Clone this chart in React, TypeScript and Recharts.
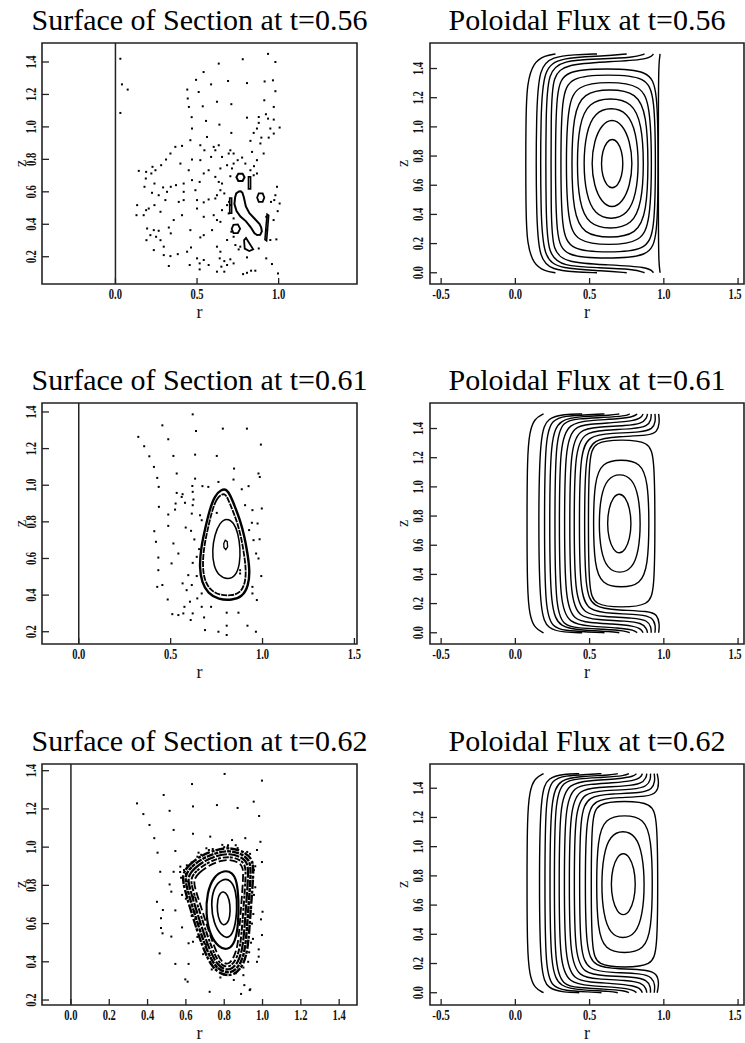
import React from 'react';
import { ComposedChart, Scatter, XAxis, YAxis, ReferenceArea, ReferenceLine } from 'recharts';

type Pt = [number, number];
type Curve = { pts: Pt[]; closed?: boolean; poly?: boolean; w?: number; dash?: string };

// ---------- axis ticks ----------
const sosTicksZ = [0.2, 0.4, 0.6, 0.8, 1.0, 1.2, 1.4];
const sosTicksR056 = [0.0, 0.5, 1.0];
const sosTicksR061 = [0.0, 0.5, 1.0, 1.5];
const sosTicksR062 = [0.0, 0.2, 0.4, 0.6, 0.8, 1.0, 1.2, 1.4];
const fluxTicksR = [-0.5, 0.0, 0.5, 1.0, 1.5];
const fluxTicksZ = [0.0, 0.2, 0.4, 0.6, 0.8, 1.0, 1.2, 1.4];

// ---------- surface of section, t=0.56 ----------
const sos056Dots: Pt[] = [
  [0.03,1.42],[0.935,1.45],[0.98,1.40],[0.78,1.417],[0.633,1.39],[0.54,1.338],[0.494,1.29],[0.44,1.23],[0.04,1.262],[0.075,1.23],
  [0.51,1.215],[0.586,1.262],[0.69,1.283],[0.806,1.27],[0.914,1.28],[0.965,1.287],[0.98,1.22],[0.443,1.175],[0.622,1.155],[0.535,1.127],
  [0.71,1.14],[0.912,1.164],[0.45,1.123],[0.97,1.123],[0.03,1.086],[0.467,1.06],[0.555,1.037],[0.637,1.014],[0.806,1.057],[0.878,1.061],
  [0.922,1.078],[0.935,1.051],[0.878,1.025],[0.97,1.045],[1.006,0.996],[0.949,0.99],[0.867,0.99],[0.847,0.963],[0.469,0.99],[0.561,0.938],
  [0.71,0.963],[0.459,0.918],[0.408,0.883],[0.52,0.887],[0.367,0.877],[0.894,0.934],[0.939,0.934],[0.97,0.959],[0.827,0.914],[0.888,0.898],
  [0.602,0.877],[0.633,0.887],[0.704,0.856],[0.724,0.836],[0.694,0.836],[0.612,0.856],[0.545,0.856],[0.837,0.846],[0.908,0.836],[0.337,0.836],
  [0.776,0.811],[0.749,0.795],[0.724,0.774],[0.684,0.764],[0.653,0.815],[0.586,0.815],[0.52,0.795],[0.469,0.799],[0.398,0.774],[0.31,0.799],
  [0.28,0.764],[0.867,0.795],[0.849,0.758],[0.827,0.733],[0.796,0.774],[0.847,0.702],[0.867,0.713],[0.714,0.744],[0.643,0.744],[0.571,0.733],
  [0.541,0.713],[0.449,0.733],[0.227,0.754],[0.143,0.729],[0.188,0.723],[0.22,0.713],[0.245,0.733],[0.612,0.692],[0.704,0.696],[0.653,0.651],
  [0.633,0.661],[0.516,0.661],[0.469,0.672],[0.418,0.651],[0.371,0.641],[0.339,0.631],[0.292,0.627],[0.239,0.651],[0.186,0.682],[0.643,0.61],
  [0.622,0.579],[0.612,0.559],[0.667,0.59],[0.696,0.538],[0.99,0.631],[0.98,0.579],[1.006,0.528],[0.953,0.538],[0.973,0.549],[0.994,0.481],
  [0.969,0.426],[0.929,0.364],[0.986,0.307],[0.949,0.303],[0.924,0.446],[0.49,0.61],[0.418,0.6],[0.316,0.6],[0.265,0.579],[0.224,0.594],
  [0.178,0.631],[0.5,0.549],[0.541,0.535],[0.571,0.553],[0.418,0.549],[0.388,0.538],[0.306,0.549],[0.133,0.518],[0.204,0.497],[0.188,0.487],
  [0.129,0.456],[0.173,0.456],[0.276,0.477],[0.239,0.518],[0.357,0.426],[0.408,0.456],[0.5,0.497],[0.541,0.446],[0.602,0.456],[0.622,0.426],
  [0.653,0.487],[0.694,0.467],[0.724,0.436],[0.194,0.374],[0.235,0.364],[0.265,0.36],[0.327,0.38],[0.339,0.344],[0.214,0.333],[0.249,0.323],
  [0.276,0.302],[0.19,0.302],[0.296,0.262],[0.235,0.241],[0.459,0.364],[0.52,0.319],[0.541,0.333],[0.592,0.364],[0.643,0.415],[0.71,0.354],
  [0.724,0.323],[0.684,0.303],[0.735,0.272],[0.755,0.245],[0.765,0.262],[0.643,0.231],[0.622,0.262],[0.463,0.257],[0.439,0.231],[0.382,0.216],
  [0.337,0.204],[0.296,0.21],[0.327,0.143],[0.5,0.19],[0.516,0.159],[0.541,0.18],[0.455,0.149],[0.516,0.122],[0.571,0.149],[0.639,0.19],
  [0.667,0.173],[0.684,0.149],[0.704,0.184],[0.724,0.159],[0.649,0.139],[0.622,0.108],[0.667,0.108],[0.782,0.093],[0.806,0.101],[0.831,0.114],
  [0.857,0.114],[0.806,0.196],[0.878,0.251],[0.924,0.19],[0.996,0.097],[0.959,0.155],[0.684,0.518],[0.704,0.518],
];
const sos056Islands: Curve[] = [
  { pts: [[0.756,0.602],[0.74,0.59],[0.733,0.565],[0.729,0.524],[0.742,0.482],[0.766,0.448],[0.8,0.418],[0.828,0.383],[0.852,0.345],[0.868,0.334],[0.887,0.335],[0.897,0.356],[0.893,0.38],[0.883,0.402],[0.853,0.434],[0.821,0.468],[0.799,0.51],[0.787,0.565],[0.778,0.594],[0.768,0.603]], closed: true, poly: true, w: 2 },
  { pts: [[0.741,0.69],[0.753,0.712],[0.779,0.712],[0.791,0.69],[0.779,0.667],[0.753,0.667]], closed: true, poly: true, w: 2 },
  { pts: [[0.868,0.565],[0.878,0.59],[0.902,0.59],[0.912,0.565],[0.902,0.538],[0.878,0.538]], closed: true, poly: true, w: 1.8 },
  { pts: [[0.712,0.372],[0.723,0.397],[0.75,0.399],[0.764,0.372],[0.75,0.346],[0.723,0.346]], closed: true, poly: true, w: 1.8 },
  { pts: [[0.788,0.302],[0.8,0.315],[0.844,0.246],[0.82,0.235],[0.792,0.25]], closed: true, poly: true, w: 1.8 },
  { pts: [[0.815,0.618],[0.815,0.692],[0.828,0.692],[0.828,0.618]], closed: true, poly: true, w: 1.6 },
  { pts: [[0.7,0.468],[0.7,0.562],[0.712,0.562],[0.712,0.468]], closed: true, poly: true, w: 1.6 },
  { pts: [[0.929,0.462],[0.939,0.455],[0.926,0.298],[0.916,0.305]], closed: true, poly: true, w: 1.6 },
];

// ---------- surface of section, t=0.61 ----------
const sos061Dots: Pt[] = [
  [0.62,1.387],[0.455,1.327],[0.324,1.264],[0.356,1.213],[0.384,1.158],[0.409,1.1],[0.427,1.04],[0.435,0.991],[0.436,0.882],[0.411,0.749],
  [0.42,0.691],[0.433,0.605],[0.433,0.536],[0.427,0.445],[0.455,0.455],[0.487,1.251],[0.515,1.16],[0.533,1.064],[0.533,0.958],[0.56,0.936],
  [0.527,0.9],[0.524,0.867],[0.487,0.84],[0.487,0.778],[0.515,0.682],[0.505,0.573],[0.542,0.627],[0.484,0.376],[0.509,0.296],[0.542,0.291],
  [0.569,0.3],[0.609,0.264],[0.575,0.336],[0.605,0.364],[0.638,1.296],[0.784,1.309],[0.915,1.309],[0.991,1.222],[0.633,1.167],[0.751,1.16],
  [0.845,1.091],[0.978,1.064],[0.985,1.045],[0.924,0.995],[0.887,0.978],[0.842,1.031],[0.76,1.018],[0.633,1.036],[0.618,0.996],[0.62,0.964],
  [0.624,0.922],[0.62,0.891],[0.673,0.995],[0.705,0.991],[0.578,0.904],[0.565,0.951],[0.615,0.845],[0.66,0.836],[0.669,0.809],[0.582,0.769],
  [0.611,0.751],[0.629,0.704],[0.655,0.651],[0.642,0.609],[0.62,0.576],[0.596,0.509],[0.642,0.504],[0.565,0.464],[0.615,0.455],[0.587,0.427],
  [0.645,0.382],[0.669,0.336],[0.72,0.336],[0.682,0.278],[0.62,0.3],[0.687,0.209],[0.76,0.2],[0.805,0.182],[0.805,0.233],[0.805,0.304],
  [0.869,0.304],[0.918,0.233],[0.964,0.2],[0.969,0.373],[0.945,0.409],[0.945,0.445],[0.993,0.504],[0.965,0.627],[0.978,0.6],[0.951,0.7],
  [0.984,0.705],[0.973,0.791],[0.996,0.873],[0.945,0.864],[0.942,0.795],[0.927,0.755],[0.905,0.891],[0.878,0.536],[0.751,0.849],[0.878,0.518],
  [0.669,0.409],
];
const sos061Orbits: Curve[] = [
  { pts: [[0.778,0.978],[0.74,0.944],[0.712,0.866],[0.69,0.773],[0.666,0.664],[0.656,0.553],[0.67,0.468],[0.703,0.41],[0.76,0.376],[0.835,0.372],[0.891,0.392],[0.924,0.452],[0.931,0.536],[0.918,0.629],[0.902,0.72],[0.877,0.812],[0.848,0.888],[0.825,0.944],[0.804,0.978]], closed: true, w: 2.4 },
  { pts: [[0.779,0.952],[0.75,0.928],[0.725,0.86],[0.704,0.77],[0.681,0.664],[0.673,0.558],[0.684,0.482],[0.713,0.43],[0.763,0.4],[0.83,0.396],[0.878,0.412],[0.905,0.46],[0.911,0.536],[0.899,0.627],[0.884,0.716],[0.86,0.805],[0.832,0.876],[0.812,0.925],[0.797,0.952]], closed: true, w: 1.8, dash: '6 1' },
  { pts: [[0.805,0.822],[0.767,0.796],[0.739,0.728],[0.726,0.645],[0.733,0.56],[0.764,0.503],[0.811,0.484],[0.854,0.503],[0.877,0.571],[0.879,0.655],[0.867,0.738],[0.844,0.796]], closed: true, w: 1.5 },
  { pts: [[0.789,0.682],[0.797,0.7],[0.808,0.692],[0.81,0.664],[0.8,0.648],[0.79,0.66]], closed: true, poly: true, w: 1.3 },
];

// ---------- surface of section, t=0.62 ----------
const sos062Dots: Pt[] = [
  [0.802,1.383],[0.997,1.348],[0.632,1.33],[0.484,1.273],[0.345,1.229],[0.954,1.238],[0.762,1.22],[0.87,1.205],[0.637,1.213],[0.515,1.19],
  [0.378,1.173],[0.982,1.163],[0.41,1.116],[0.536,1.09],[0.637,1.07],[0.727,1.055],[0.91,1.047],[0.435,1.047],[0.989,1.028],[0.841,1.037],
  [0.818,1.002],[0.971,0.985],[0.452,0.971],[0.545,0.98],[0.666,0.971],[0.707,0.994],[0.997,0.922],[0.466,0.871],[0.536,0.871],[0.571,0.898],
  [0.524,0.767],[0.515,0.805],[0.449,0.714],[0.58,0.75],[0.48,0.671],[0.545,0.669],[0.47,0.628],[0.58,0.58],[0.47,0.577],[0.478,0.549],
  [0.524,0.532],[0.614,0.497],[0.637,0.505],[0.463,0.444],[0.545,0.389],[0.614,0.389],[0.997,0.54],[0.992,0.622],[1.0,0.662],[0.98,0.465],
  [0.98,0.427],[0.971,0.4],[0.597,0.308],[0.609,0.296],[0.936,0.256],[0.724,0.243],[0.888,0.232],[0.933,0.252],[0.905,0.278],
  [0.6,0.86],[0.61,0.82],[0.62,0.79],[0.64,0.74],[0.655,0.66],[0.67,0.6],[0.69,0.52],[0.72,0.44],[0.76,0.37],[0.8,0.335],
  [0.86,0.34],[0.9,0.37],[0.93,0.45],[0.945,0.6],[0.955,0.75],[0.955,0.88],[0.92,0.975],[0.87,0.995],[0.8,1.0],[0.74,0.99],
  [0.68,0.96],[0.63,0.92],[0.59,0.88],[0.82,1.01],[0.95,0.52],[0.94,0.68],[0.65,0.625],[0.705,0.49],[0.73,0.42],[0.575,0.84],
  [0.57,0.87],[0.605,0.905],[0.66,0.95],[0.72,0.985],[0.79,1.012],[0.86,1.01],[0.935,0.965],[0.962,0.9],[0.962,0.79],[0.952,0.65],
  [0.94,0.5],[0.925,0.4],[0.9,0.33],[0.85,0.305],[0.78,0.318],[0.735,0.36],[0.69,0.44],[0.66,0.53],[0.63,0.64],[0.6,0.73],
];
const sos062Orbits: Curve[] = [
  { pts: [[0.578,0.855],[0.615,0.908],[0.678,0.955],[0.75,0.985],[0.83,1.0],[0.905,0.975],[0.952,0.935],[0.952,0.85],[0.942,0.72],[0.932,0.58],[0.922,0.455],[0.895,0.37],[0.84,0.322],[0.775,0.338],[0.732,0.38],[0.692,0.465],[0.657,0.568],[0.622,0.68],[0.592,0.785]], closed: true, w: 2.4, dash: '9 2 3 1' },
  { pts: [[0.592,0.85],[0.628,0.898],[0.688,0.942],[0.756,0.97],[0.83,0.984],[0.898,0.962],[0.938,0.926],[0.938,0.846],[0.929,0.718],[0.919,0.58],[0.909,0.46],[0.884,0.382],[0.836,0.338],[0.78,0.352],[0.742,0.392],[0.704,0.474],[0.67,0.574],[0.636,0.682],[0.606,0.783]], closed: true, w: 2.4, dash: '4 1 7 1' },
  { pts: [[0.607,0.843],[0.642,0.888],[0.698,0.929],[0.762,0.956],[0.83,0.968],[0.891,0.948],[0.925,0.916],[0.925,0.842],[0.916,0.716],[0.906,0.58],[0.896,0.466],[0.872,0.394],[0.832,0.354],[0.784,0.366],[0.751,0.404],[0.716,0.483],[0.683,0.58],[0.65,0.685],[0.621,0.78]], closed: true, w: 2.2, dash: '11 1.5' },
  { pts: [[0.622,0.836],[0.656,0.878],[0.708,0.916],[0.768,0.942],[0.83,0.952],[0.884,0.934],[0.912,0.906],[0.912,0.838],[0.903,0.714],[0.893,0.58],[0.883,0.472],[0.86,0.406],[0.828,0.37],[0.788,0.38],[0.76,0.416],[0.728,0.492],[0.696,0.586],[0.664,0.688],[0.636,0.777]], closed: true, w: 2, dash: '3 2 6 1' },
  { pts: [[0.637,0.829],[0.67,0.868],[0.718,0.903],[0.774,0.928],[0.83,0.936],[0.877,0.92],[0.899,0.896],[0.899,0.834],[0.89,0.712],[0.88,0.58],[0.87,0.478],[0.848,0.418],[0.824,0.386],[0.792,0.394],[0.769,0.428],[0.74,0.501],[0.709,0.592],[0.678,0.691],[0.651,0.774]], closed: true, w: 1.8, dash: '8 3' },
  { pts: [[0.8,0.88],[0.745,0.848],[0.71,0.76],[0.704,0.65],[0.724,0.543],[0.771,0.474],[0.82,0.46],[0.858,0.502],[0.874,0.6],[0.876,0.72],[0.866,0.826],[0.842,0.868]], closed: true, w: 2.2 },
  { pts: [[0.79,0.835],[0.745,0.79],[0.73,0.7],[0.745,0.6],[0.785,0.535],[0.825,0.52],[0.855,0.57],[0.868,0.68],[0.862,0.77],[0.835,0.83]], closed: true, w: 1.7 },
  { pts: [[0.796,0.77],[0.818,0.752],[0.832,0.7],[0.83,0.63],[0.815,0.6],[0.796,0.59],[0.778,0.605],[0.762,0.66],[0.765,0.73],[0.778,0.76]], closed: true, w: 1.6 },
];

// ---------- poloidal flux contours, t=0.56 ----------
const flux056Closed: Pt[][] = [
  [[0.727,0.748],[0.717,0.835],[0.690,0.898],[0.652,0.921],[0.615,0.898],[0.587,0.835],[0.577,0.748],[0.587,0.661],[0.615,0.598],[0.652,0.575],[0.690,0.598],[0.717,0.661]],
  [[0.791,0.749],[0.772,0.903],[0.721,1.016],[0.651,1.057],[0.581,1.016],[0.530,0.903],[0.511,0.749],[0.530,0.595],[0.581,0.482],[0.651,0.441],[0.721,0.482],[0.772,0.595]],
  [[0.833,0.749],[0.814,0.962],[0.758,1.098],[0.645,1.137],[0.532,1.098],[0.476,0.962],[0.457,0.749],[0.476,0.536],[0.532,0.400],[0.645,0.361],[0.758,0.400],[0.814,0.536]],
  [[0.867,0.749],[0.851,1.021],[0.788,1.170],[0.640,1.202],[0.492,1.170],[0.429,1.021],[0.413,0.749],[0.429,0.477],[0.492,0.328],[0.640,0.296],[0.788,0.328],[0.851,0.477]],
  [[0.897,0.749],[0.884,1.082],[0.819,1.235],[0.637,1.261],[0.455,1.235],[0.390,1.082],[0.377,0.749],[0.390,0.416],[0.455,0.263],[0.637,0.237],[0.819,0.263],[0.884,0.416]],
  [[0.920,0.749],[0.908,1.142],[0.848,1.289],[0.630,1.311],[0.412,1.289],[0.352,1.142],[0.340,0.749],[0.352,0.356],[0.412,0.209],[0.630,0.187],[0.848,0.209],[0.908,0.356]],
  [[0.945,0.749],[0.939,1.207],[0.881,1.347],[0.625,1.359],[0.369,1.347],[0.311,1.207],[0.305,0.749],[0.311,0.291],[0.369,0.151],[0.625,0.139],[0.881,0.151],[0.939,0.291]],
  [[0.963,0.749],[0.958,1.257],[0.901,1.390],[0.616,1.400],[0.331,1.390],[0.274,1.257],[0.269,0.749],[0.274,0.241],[0.331,0.108],[0.616,0.098],[0.901,0.108],[0.958,0.241]],
];
const flux056Open: Pt[][] = [
  [[0.93,1.5],[0.9,1.46],[0.6,1.445],[0.35,1.43],[0.25,1.36],[0.24,1.1],[0.24,0.4],[0.25,0.14],[0.35,0.07],[0.6,0.055],[0.9,0.04],[0.93,0.0]],
  [[0.87,1.5],[0.8,1.475],[0.55,1.465],[0.32,1.455],[0.22,1.38],[0.205,1.1],[0.205,0.4],[0.22,0.12],[0.32,0.045],[0.55,0.035],[0.8,0.025],[0.87,0.0]],
  [[0.75,1.5],[0.6,1.485],[0.3,1.475],[0.19,1.4],[0.17,1.1],[0.17,0.4],[0.19,0.1],[0.3,0.025],[0.6,0.015],[0.75,0.0]],
  [[0.55,1.5],[0.4,1.495],[0.25,1.48],[0.16,1.41],[0.14,1.1],[0.14,0.4],[0.16,0.09],[0.25,0.02],[0.4,0.005],[0.55,0.0]],
  [[0.27,1.5],[0.2,1.49],[0.12,1.44],[0.08,1.3],[0.07,1.1],[0.07,0.4],[0.08,0.2],[0.12,0.06],[0.2,0.01],[0.27,0.0]],
  [[0.975,1.5],[0.966,1.44],[0.963,1.2],[0.963,0.3],[0.966,0.06],[0.975,0.0]],
];

// ---------- poloidal flux contours, t=0.61 ----------
const flux061Closed: Pt[][] = [
  [[0.782,0.749],[0.771,0.854],[0.741,0.931],[0.700,0.959],[0.659,0.931],[0.629,0.854],[0.618,0.749],[0.629,0.644],[0.659,0.567],[0.700,0.539],[0.741,0.567],[0.771,0.644]],
  [[0.845,0.749],[0.831,0.939],[0.788,1.059],[0.703,1.094],[0.618,1.059],[0.575,0.939],[0.561,0.749],[0.575,0.559],[0.618,0.439],[0.703,0.404],[0.788,0.439],[0.831,0.559]],
  [[0.902,0.749],[0.893,1.036],[0.845,1.168],[0.713,1.190],[0.581,1.168],[0.533,1.036],[0.524,0.749],[0.533,0.462],[0.581,0.330],[0.713,0.308],[0.845,0.330],[0.893,0.462]],
  [[0.941,0.749],[0.937,1.198],[0.901,1.313],[0.716,1.324],[0.531,1.313],[0.495,1.198],[0.491,0.749],[0.495,0.300],[0.531,0.185],[0.716,0.174],[0.901,0.185],[0.937,0.300]],
];
const flux061Open: Pt[][] = [
  [[0.965,1.5],[0.972,1.44],[0.955,1.375],[0.9,1.352],[0.7,1.345],[0.52,1.33],[0.47,1.2],[0.465,0.75],[0.47,0.3],[0.52,0.17],[0.7,0.155],[0.9,0.148],[0.955,0.125],[0.972,0.06],[0.965,0.0]],
  [[0.94,1.5],[0.945,1.45],[0.925,1.395],[0.85,1.375],[0.65,1.368],[0.49,1.352],[0.435,1.22],[0.43,0.75],[0.435,0.28],[0.49,0.148],[0.65,0.132],[0.85,0.125],[0.925,0.105],[0.945,0.05],[0.94,0.0]],
  [[0.915,1.5],[0.915,1.462],[0.89,1.414],[0.8,1.398],[0.6,1.39],[0.46,1.374],[0.4,1.24],[0.395,0.75],[0.4,0.26],[0.46,0.126],[0.6,0.11],[0.8,0.102],[0.89,0.086],[0.915,0.038],[0.915,0.0]],
  [[0.89,1.5],[0.885,1.472],[0.85,1.432],[0.75,1.42],[0.55,1.41],[0.43,1.395],[0.37,1.26],[0.365,0.75],[0.37,0.24],[0.43,0.105],[0.55,0.09],[0.75,0.08],[0.85,0.068],[0.885,0.028],[0.89,0.0]],
  [[0.86,1.5],[0.85,1.477],[0.8,1.452],[0.65,1.44],[0.5,1.43],[0.395,1.415],[0.335,1.28],[0.33,0.75],[0.335,0.22],[0.395,0.085],[0.5,0.07],[0.65,0.06],[0.8,0.048],[0.85,0.023],[0.86,0.0]],
  [[0.82,1.5],[0.8,1.482],[0.7,1.466],[0.5,1.456],[0.36,1.436],[0.3,1.3],[0.295,0.75],[0.3,0.2],[0.36,0.064],[0.5,0.044],[0.7,0.034],[0.8,0.018],[0.82,0.0]],
  [[0.77,1.5],[0.74,1.486],[0.6,1.476],[0.42,1.468],[0.32,1.45],[0.27,1.32],[0.265,0.75],[0.27,0.18],[0.32,0.05],[0.42,0.032],[0.6,0.024],[0.74,0.014],[0.77,0.0]],
  [[0.7,1.5],[0.65,1.491],[0.45,1.483],[0.3,1.466],[0.235,1.34],[0.23,0.75],[0.235,0.16],[0.3,0.034],[0.45,0.017],[0.65,0.009],[0.7,0.0]],
  [[0.6,1.5],[0.5,1.495],[0.33,1.486],[0.25,1.46],[0.2,1.35],[0.195,0.75],[0.2,0.15],[0.25,0.04],[0.33,0.014],[0.5,0.005],[0.6,0.0]],
  [[0.45,1.5],[0.33,1.497],[0.22,1.476],[0.165,1.37],[0.155,0.75],[0.165,0.13],[0.22,0.024],[0.33,0.003],[0.45,0.0]],
  [[0.19,1.5],[0.13,1.47],[0.095,1.38],[0.08,1.2],[0.078,0.75],[0.08,0.3],[0.095,0.12],[0.13,0.03],[0.19,0.0]],
];

// ---------- poloidal flux contours, t=0.62 ----------
const flux062Closed: Pt[][] = [
  [[0.811,0.743],[0.800,0.852],[0.769,0.932],[0.727,0.961],[0.685,0.932],[0.654,0.852],[0.643,0.743],[0.654,0.634],[0.685,0.554],[0.727,0.525],[0.769,0.554],[0.800,0.634]],
  [[0.872,0.74],[0.857,0.946],[0.813,1.077],[0.725,1.114],[0.637,1.077],[0.593,0.946],[0.578,0.74],[0.593,0.534],[0.637,0.403],[0.725,0.366],[0.813,0.403],[0.857,0.534]],
  [[0.925,0.743],[0.916,1.052],[0.868,1.195],[0.735,1.219],[0.602,1.195],[0.554,1.052],[0.545,0.743],[0.554,0.434],[0.602,0.291],[0.735,0.267],[0.868,0.291],[0.916,0.434]],
  [[0.960,0.743],[0.956,1.188],[0.920,1.302],[0.735,1.313],[0.550,1.302],[0.514,1.188],[0.510,0.743],[0.514,0.298],[0.550,0.184],[0.735,0.173],[0.920,0.184],[0.956,0.298]],
];
const flux062Open: Pt[][] = [
  [[0.955,1.5],[0.968,1.44],[0.955,1.37],[0.89,1.342],[0.7,1.337],[0.53,1.325],[0.475,1.2],[0.47,0.75],[0.475,0.3],[0.53,0.175],[0.7,0.163],[0.89,0.158],[0.955,0.13],[0.968,0.06],[0.955,0.0]],
  [[0.935,1.5],[0.942,1.452],[0.922,1.393],[0.85,1.368],[0.65,1.362],[0.49,1.348],[0.435,1.22],[0.432,0.75],[0.435,0.28],[0.49,0.152],[0.65,0.138],[0.85,0.132],[0.922,0.107],[0.942,0.048],[0.935,0.0]],
  [[0.91,1.5],[0.912,1.463],[0.888,1.412],[0.8,1.392],[0.6,1.385],[0.46,1.37],[0.4,1.24],[0.396,0.75],[0.4,0.26],[0.46,0.13],[0.6,0.115],[0.8,0.108],[0.888,0.088],[0.912,0.037],[0.91,0.0]],
  [[0.885,1.5],[0.882,1.473],[0.85,1.43],[0.75,1.415],[0.55,1.406],[0.43,1.392],[0.367,1.26],[0.362,0.75],[0.367,0.24],[0.43,0.108],[0.55,0.094],[0.75,0.085],[0.85,0.07],[0.882,0.027],[0.885,0.0]],
  [[0.855,1.5],[0.848,1.478],[0.8,1.45],[0.65,1.437],[0.5,1.427],[0.395,1.412],[0.333,1.28],[0.329,0.75],[0.333,0.22],[0.395,0.088],[0.5,0.073],[0.65,0.063],[0.8,0.05],[0.848,0.022],[0.855,0.0]],
  [[0.815,1.5],[0.8,1.482],[0.7,1.464],[0.5,1.453],[0.36,1.433],[0.298,1.3],[0.294,0.75],[0.298,0.2],[0.36,0.067],[0.5,0.047],[0.7,0.036],[0.8,0.018],[0.815,0.0]],
  [[0.765,1.5],[0.74,1.486],[0.6,1.475],[0.42,1.466],[0.32,1.448],[0.265,1.32],[0.262,0.75],[0.265,0.18],[0.32,0.052],[0.42,0.034],[0.6,0.025],[0.74,0.014],[0.765,0.0]],
  [[0.69,1.5],[0.65,1.491],[0.45,1.482],[0.3,1.465],[0.236,1.34],[0.232,0.75],[0.236,0.16],[0.3,0.035],[0.45,0.018],[0.65,0.009],[0.69,0.0]],
  [[0.58,1.5],[0.5,1.495],[0.33,1.486],[0.25,1.46],[0.202,1.35],[0.198,0.75],[0.202,0.15],[0.25,0.04],[0.33,0.014],[0.5,0.005],[0.58,0.0]],
  [[0.43,1.5],[0.33,1.497],[0.22,1.476],[0.168,1.37],[0.16,0.75],[0.168,0.13],[0.22,0.024],[0.33,0.003],[0.43,0.0]],
  [[0.19,1.5],[0.13,1.47],[0.095,1.38],[0.08,1.2],[0.078,0.75],[0.08,0.3],[0.095,0.12],[0.13,0.03],[0.19,0.0]],
];

// ---------- drawing ----------
const serif = '"Liberation Serif", "Times New Roman", serif';
const ink = '#111';

const toRows = (pts: Pt[]) => pts.map(([r, z]) => ({ r, z }));
const asCurves = (sets: Pt[][], closed: boolean): Curve[] => sets.map((pts) => ({ pts, closed, w: 1.4 }));
const jointType = (c: Curve) => (c.poly ? 'linearClosed' : c.closed ? 'basisClosed' : 'basis');

const Speck = (p: any) => <rect x={p.cx - 1} y={p.cy - 1} width={2} height={2} fill="#000" />;
const NoMark = () => <g />;

type PanelProps = {
  left: number;
  top: number;
  side: 'left' | 'right';
  title: string;
  xDomain: [number, number];
  yDomain: [number, number];
  xTicks: number[];
  yTicks: number[];
  dots?: Pt[];
  curves: Curve[];
  axisAtZero?: boolean;
};

function Panel({ left, top, side, title, xDomain, yDomain, xTicks, yTicks, dots, curves, axisAtZero }: PanelProps) {
  const isLeft = side === 'left';
  const W = isLeft ? 372 : 373;
  const H = 330;
  const yw = isLeft ? 42 : 58;
  const mr = isLeft ? 15 : 1;
  const boxL = yw;
  const boxR = W - mr;
  const boxT = 43;
  const boxB = 284;
  const labelGap = isLeft ? 10.5 : 12;
  const zGap = isLeft ? 22 : 28;
  const midX = (boxL + boxR) / 2;
  const midY = (boxT + boxB) / 2;
  const charW = 4.4;

  const tickText = {
    fontFamily: serif,
    fontSize: 14,
    fontWeight: 700 as const,
    fill: ink,
    lengthAdjust: 'spacingAndGlyphs' as const,
  };

  const XTick = (p: any) => {
    const label = p.payload.value.toFixed(1);
    // keep the last label inside the drawing area
    const tx = Math.min(p.x, W - 10);
    return (
      <g>
        <line x1={p.x} y1={p.y} x2={p.x} y2={p.y - 6} stroke="#222" strokeWidth={1.3} />
        <text x={tx} y={p.y + 10} textAnchor="middle" dominantBaseline="central" textLength={label.length * charW} {...tickText}>
          {label}
        </text>
      </g>
    );
  };

  const YTick = (p: any) => {
    const label = p.payload.value.toFixed(1);
    return (
      <g>
        <line x1={p.x} y1={p.y} x2={p.x + 7} y2={p.y} stroke="#222" strokeWidth={1.3} />
        <text
          transform={`translate(${p.x - labelGap},${p.y}) rotate(-90)`}
          textAnchor="middle"
          dominantBaseline="central"
          textLength={label.length * charW}
          {...tickText}
        >
          {label}
        </text>
      </g>
    );
  };

  return (
    <div style={{ position: 'absolute', left, top, width: W, height: H }}>
      <ComposedChart width={W} height={H} margin={{ top: boxT, right: mr, bottom: 16, left: 0 }}>
        <XAxis
          type="number"
          dataKey="r"
          domain={xDomain}
          allowDataOverflow
          ticks={xTicks}
          interval={0}
          tick={XTick}
          tickLine={false}
          axisLine={false}
          tickSize={0}
          tickMargin={0}
          height={30}
        />
        <YAxis
          type="number"
          dataKey="z"
          domain={yDomain}
          allowDataOverflow
          ticks={yTicks}
          interval={0}
          tick={YTick}
          tickLine={false}
          axisLine={false}
          tickSize={0}
          tickMargin={0}
          width={yw}
        />
        <ReferenceArea
          x1={xDomain[0]}
          x2={xDomain[1]}
          y1={yDomain[0]}
          y2={yDomain[1]}
          fill="none"
          fillOpacity={0}
          stroke="#222"
          strokeWidth={1.6}
          ifOverflow="visible"
        />
        {axisAtZero && <ReferenceLine x={0} stroke="#222" strokeWidth={1.5} ifOverflow="visible" />}
        {curves.map((c, i) => (
          <Scatter
            key={`c${i}`}
            data={toRows(c.pts)}
            shape={NoMark}
            line={{ stroke: '#000', strokeWidth: c.w ?? 1.4, strokeDasharray: c.dash }}
            lineJointType={jointType(c)}
            isAnimationActive={false}
          />
        ))}
        {dots && <Scatter data={toRows(dots)} shape={Speck} isAnimationActive={false} />}
      </ComposedChart>
      <svg width={W} height={H} style={{ position: 'absolute', left: 0, top: 0, pointerEvents: 'none', overflow: 'visible' }}>
        <text x={midX} y={30} textAnchor="middle" fontFamily={serif} fontSize={30} fill="#000">
          {title}
        </text>
        <text x={midX} y={318} textAnchor="middle" fontFamily={serif} fontSize={18} fill={ink}>
          r
        </text>
        <text
          transform={`translate(${boxL - zGap},${midY}) rotate(-90)`}
          textAnchor="middle"
          dominantBaseline="central"
          fontFamily={serif}
          fontSize={16}
          fill={ink}
        >
          z
        </text>
      </svg>
    </div>
  );
}

export default function App() {
  return (
    <div style={{ position: 'absolute', left: 0, top: 0, width: 745, height: 1043, background: '#fff' }}>
      <Panel
        left={0}
        top={0}
        side="left"
        title="Surface of Section at t=0.56"
        xDomain={[-0.45, 1.48]}
        yDomain={[0.032, 1.517]}
        xTicks={sosTicksR056}
        yTicks={sosTicksZ}
        dots={sos056Dots}
        curves={sos056Islands}
        axisAtZero
      />
      <Panel
        left={372}
        top={0}
        side="right"
        title="Poloidal Flux at t=0.56"
        xDomain={[-0.575, 1.54]}
        yDomain={[-0.077, 1.575]}
        xTicks={fluxTicksR}
        yTicks={fluxTicksZ}
        curves={[...asCurves(flux056Closed, true), ...asCurves(flux056Open, false)]}
      />
      <Panel
        left={0}
        top={360}
        side="left"
        title="Surface of Section at t=0.61"
        xDomain={[-0.2, 1.514]}
        yDomain={[0.133, 1.449]}
        xTicks={sosTicksR061}
        yTicks={sosTicksZ}
        dots={sos061Dots}
        curves={sos061Orbits}
        axisAtZero
      />
      <Panel
        left={372}
        top={360}
        side="right"
        title="Poloidal Flux at t=0.61"
        xDomain={[-0.575, 1.54]}
        yDomain={[-0.077, 1.575]}
        xTicks={fluxTicksR}
        yTicks={fluxTicksZ}
        curves={[...asCurves(flux061Closed, true), ...asCurves(flux061Open, false)]}
      />
      <Panel
        left={0}
        top={721}
        side="left"
        title="Surface of Section at t=0.62"
        xDomain={[-0.151, 1.493]}
        yDomain={[0.174, 1.435]}
        xTicks={sosTicksR062}
        yTicks={sosTicksZ}
        dots={sos062Dots}
        curves={sos062Orbits}
        axisAtZero
      />
      <Panel
        left={372}
        top={721}
        side="right"
        title="Poloidal Flux at t=0.62"
        xDomain={[-0.575, 1.54]}
        yDomain={[-0.084, 1.566]}
        xTicks={fluxTicksR}
        yTicks={fluxTicksZ}
        curves={[...asCurves(flux062Closed, true), ...asCurves(flux062Open, false)]}
      />
    </div>
  );
}
